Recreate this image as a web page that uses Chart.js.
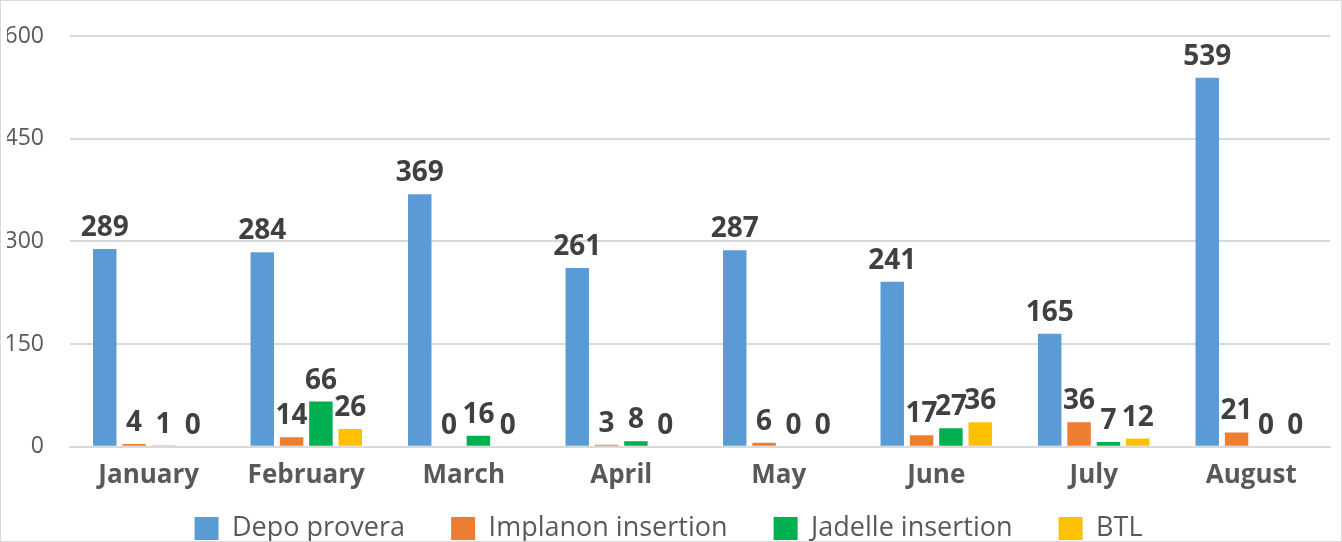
<!DOCTYPE html>
<html>
<head>
<meta charset="utf-8">
<script src="https://cdn.jsdelivr.net/npm/chart.js@4/dist/chart.umd.min.js"></script>
<style>
    body { margin: 0; background: #fff; }
    #wrap { width: 1340px; height: 540px; border: 1px solid #d9d9d9; }
</style>
</head>
<body>
<div id="wrap"><canvas id="fpChart" width="1340" height="540"></canvas></div>
<script>
// Family planning by month
const months = ['January', 'February', 'March', 'April', 'May', 'June', 'July', 'August'];
const depoProvera = [289, 284, 369, 261, 287, 241, 165, 539];
const implanon = [4, 14, 0, 3, 6, 17, 36, 21];
const jadelle = [1, 66, 16, 8, 0, 27, 7, 0];
const btl = [0, 26, 0, 0, 0, 36, 12, 0];
const yTicks = [0, 150, 300, 450, 600];

// labels au-dessus des barres
const barLabels = {
    id: 'barLabels',
    afterDatasetsDraw(chart) {
        const ctx = chart.ctx;
        ctx.save();
        ctx.font = 'bold 28px "Open Sans", sans-serif';
        ctx.fillStyle = '#404040';
        ctx.textAlign = 'center';
        ctx.textBaseline = 'alphabetic';
        chart.data.datasets.forEach((ds, i) => {
            chart.getDatasetMeta(i).data.forEach((bar, j) => {
                ctx.fillText(ds.data[j], bar.x, bar.y - 13);
            });
        });
        ctx.restore();
    }
};

const ctx = document.getElementById('fpChart').getContext('2d');
new Chart(ctx, {
    type: 'bar',
    data: {
        labels: months,
        datasets: [
            { label: 'Depo provera', data: depoProvera, backgroundColor: '#5B9BD5' },
            { label: 'Implanon insertion', data: implanon, backgroundColor: '#ED7D31' },
            { label: 'Jadelle insertion', data: jadelle, backgroundColor: '#00B050' },
            { label: 'BTL', data: btl, backgroundColor: '#FFC000' }
        ]
    },
    options: {
        responsive: false,
        animation: false,
        datasets: {
            bar: { categoryPercentage: 0.745, barPercentage: 0.8 }
        },
        layout: { padding: { left: 6, right: 11, top: 35, bottom: -11 } },
        scales: {
            x: {
                grid: { display: false, drawTicks: false },
                border: { display: true, color: '#d9d9d9', width: 2 },
                ticks: {
                    color: '#595959',
                    padding: 13,
                    font: { family: '"Open Sans", sans-serif', size: 26, weight: 'bold' }
                }
            },
            y: {
                min: 0,
                max: 600,
                afterBuildTicks: axis => { axis.ticks = yTicks.map(v => ({ value: v })); },
                afterFit: axis => { axis.width = 63; },
                // tick marks invisibles pour l'écart label / grille
                grid: { color: '#d9d9d9', lineWidth: 2, drawTicks: true, tickLength: 26, tickColor: 'rgba(0,0,0,0)' },
                border: { display: false },
                ticks: {
                    color: '#595959',
                    padding: 0,
                    font: { family: '"Open Sans", sans-serif', size: 23 }
                }
            }
        },
        plugins: {
            tooltip: { enabled: false },
            legend: {
                position: 'bottom',
                labels: {
                    color: '#595959',
                    boxWidth: 24,
                    boxHeight: 23,
                    padding: 11,
                    font: { family: '"Open Sans", sans-serif', size: 27 },
                    // espace entre les items
                    generateLabels: chart => {
                        const items = Chart.defaults.plugins.legend.labels.generateLabels(chart);
                        items.forEach((it, i) => {
                            if (i < items.length - 1) it.text += '     ';
                            it.lineWidth = 0;
                        });
                        return items;
                    }
                }
            }
        }
    },
    plugins: [barLabels]
});
</script>
</body>
</html>
